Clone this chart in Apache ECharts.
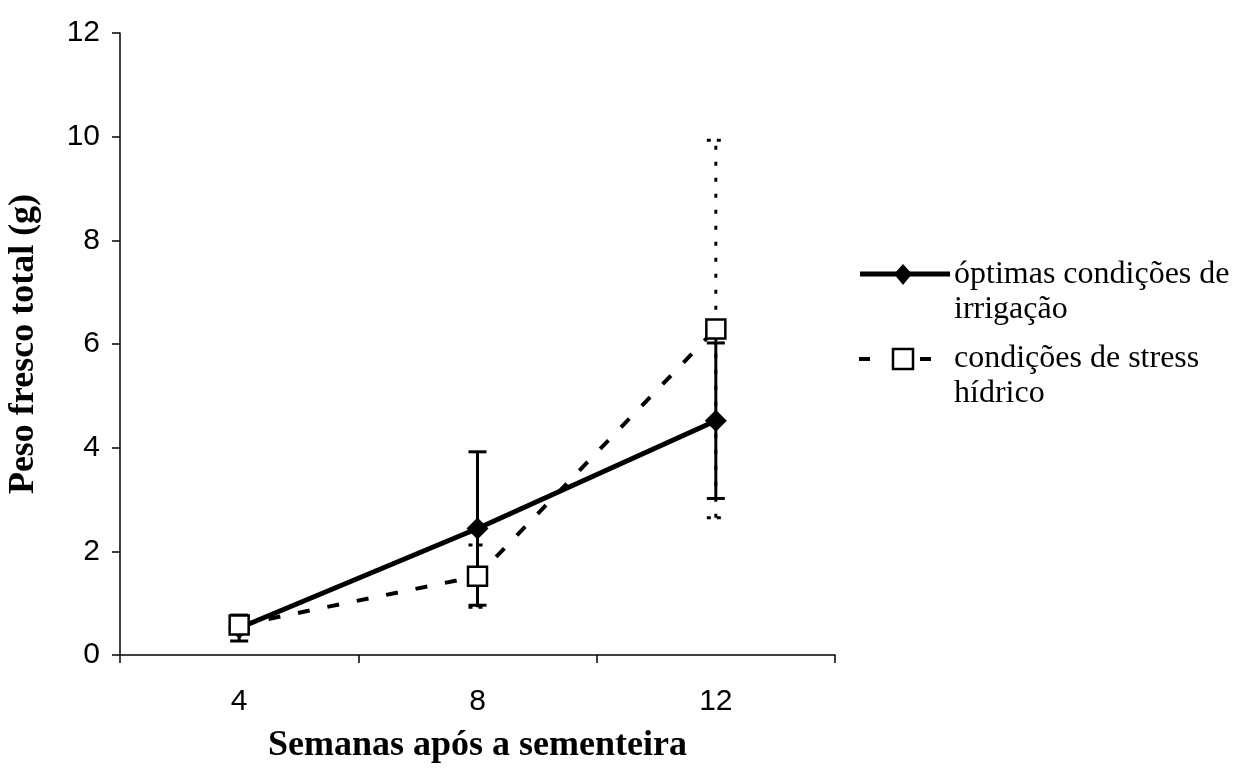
<!DOCTYPE html>
<html>
<head>
<meta charset="utf-8">
<script src="https://cdn.jsdelivr.net/npm/echarts@6/dist/echarts.min.js"></script>
<style>
  html, body { margin: 0; padding: 0; background: #fff; }
  #chart { width: 1235px; height: 771px; }
</style>
</head>
<body>
<div id="chart"></div>
<script>
// ---- data ----
var categories = ['4', '8', '12'];
var optimaMean = [0.52, 2.44, 4.52];
var optimaErr  = [0.25, 1.48, 1.5];
var stressMean = [0.58, 1.52, 6.29];
var stressErr  = [0.12, 0.6, 3.64];
var yTicks = { min: 0, max: 12, interval: 2 };
var seriesNames = ['óptimas condições de irrigação', 'condições de stress hídrico'];

function errData(mean, err) {
  return mean.map(function (m, i) { return [i, m - err[i], m + err[i]]; });
}

function errRender(dotted) {
  return function (params, api) {
    var x = api.value(0);
    var lo = api.coord([x, api.value(1)]);
    var hi = api.coord([x, api.value(2)]);
    var half = 9;
    var st = { stroke: '#000', lineWidth: 3 };
    if (dotted) { st.lineDash = [4, 12]; }
    var capSt = { stroke: '#000', lineWidth: 3 };
    if (dotted) { capSt.lineDash = [4, 6]; }
    return {
      type: 'group',
      children: [
        { type: 'line', shape: { x1: lo[0], y1: lo[1], x2: hi[0], y2: hi[1] }, style: st },
        { type: 'line', shape: { x1: lo[0] - half, y1: lo[1], x2: lo[0] + half, y2: lo[1] }, style: capSt },
        { type: 'line', shape: { x1: hi[0] - half, y1: hi[1], x2: hi[0] + half, y2: hi[1] }, style: capSt }
      ]
    };
  };
}

var chart = echarts.init(document.getElementById('chart'), null, { renderer: 'canvas' });

var legendFont = '32px "Liberation Serif"';
var option = {
  backgroundColor: '#ffffff',
  animation: false,
  grid: { left: 120, right: 400, top: 33, bottom: 116, outerBoundsMode: 'none', containLabel: false },
  xAxis: {
    type: 'category',
    data: categories,
    boundaryGap: true,
    axisLine: { lineStyle: { color: '#000', width: 1.5 } },
    axisTick: { show: true, length: 8, lineStyle: { color: '#000', width: 1.5 } },
    axisLabel: { color: '#000', fontFamily: 'Liberation Sans', fontSize: 30, margin: 32 },
    name: 'Semanas após a sementeira',
    nameLocation: 'middle',
    nameGap: 73,
    nameTextStyle: { color: '#000', fontFamily: 'Liberation Serif', fontWeight: 'bold', fontSize: 36 }
  },
  yAxis: {
    type: 'value',
    min: yTicks.min,
    max: yTicks.max,
    interval: yTicks.interval,
    splitLine: { show: false },
    axisLine: { show: true, lineStyle: { color: '#000', width: 1.5 } },
    axisTick: { show: true, length: 8, lineStyle: { color: '#000', width: 1.5 } },
    axisLabel: { color: '#000', fontFamily: 'Liberation Sans', fontSize: 30, margin: 20 },
    name: 'Peso fresco total (g)',
    nameLocation: 'middle',
    nameRotate: 90,
    nameGap: 78,
    nameTextStyle: { color: '#000', fontFamily: 'Liberation Serif', fontWeight: 'bold', fontSize: 36 }
  },
  series: [
    {
      name: seriesNames[0] + ' err',
      type: 'custom',
      renderItem: errRender(false),
      data: errData(optimaMean, optimaErr),
      z: 1,
      silent: true
    },
    {
      name: seriesNames[1] + ' err',
      type: 'custom',
      renderItem: errRender(true),
      data: errData(stressMean, stressErr),
      z: 1,
      silent: true
    },
    {
      name: seriesNames[0],
      type: 'line',
      data: optimaMean,
      symbol: 'diamond',
      symbolSize: 22,
      lineStyle: { color: '#000', width: 5 },
      itemStyle: { color: '#000' },
      z: 3
    },
    {
      name: seriesNames[1],
      type: 'line',
      data: stressMean,
      symbol: 'rect',
      symbolSize: 19,
      lineStyle: { color: '#000', width: 4, type: [12, 18] },
      itemStyle: { color: '#fff', borderColor: '#000', borderWidth: 2.5 },
      z: 4
    }
  ],
  graphic: [
    // legend entry 1
    { type: 'line', shape: { x1: 860, y1: 274, x2: 950, y2: 274 }, style: { stroke: '#000', lineWidth: 5 } },
    { type: 'polygon', shape: { points: [[903, 264], [912, 274], [903, 285], [894, 274]] }, style: { fill: '#000' } },
    { type: 'text', left: 954, top: 259, style: { text: 'óptimas condições de', font: legendFont, fill: '#000' } },
    { type: 'text', left: 954, top: 294, style: { text: 'irrigação', font: legendFont, fill: '#000' } },
    // legend entry 2
    { type: 'line', shape: { x1: 859, y1: 359, x2: 870, y2: 359 }, style: { stroke: '#000', lineWidth: 4 } },
    { type: 'rect', shape: { x: 893, y: 349, width: 20, height: 20 }, style: { fill: '#fff', stroke: '#000', lineWidth: 2.5 } },
    { type: 'line', shape: { x1: 920, y1: 359, x2: 931, y2: 359 }, style: { stroke: '#000', lineWidth: 4 } },
    { type: 'text', left: 954, top: 343, style: { text: 'condições de stress', font: legendFont, fill: '#000' } },
    { type: 'text', left: 954, top: 378, style: { text: 'hídrico', font: legendFont, fill: '#000' } }
  ]
};
chart.setOption(option);
</script>
</body>
</html>
